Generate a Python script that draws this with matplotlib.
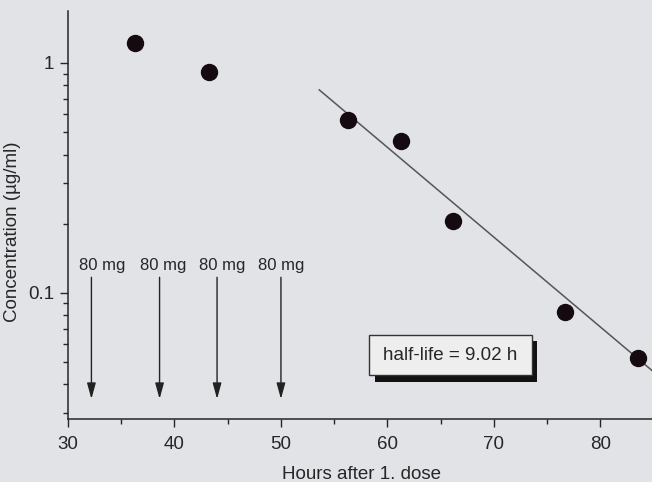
import matplotlib
matplotlib.use("Agg")
import matplotlib.pyplot as plt
from matplotlib.ticker import FixedLocator, FixedFormatter, LogLocator, NullFormatter, MultipleLocator
from matplotlib.patches import Rectangle

plt.rcParams['font.family'] = ['Liberation Sans', 'DejaVu Sans']

# Data
hours = [36.3, 43.2, 56.3, 61.3, 66.2, 76.7, 83.5]
conc = [1.22, 0.914, 0.565, 0.459, 0.205, 0.083, 0.052]

fit_hours = [53.6, 84.9]
fit_conc = [0.764, 0.0458]

dose_hours = [32.2, 38.6, 44.0, 50.0]
dose_labels = ["80 mg", "80 mg", "80 mg", "80 mg"]
dose_label_x = [33.2, 38.9, 44.5, 50.0]

halflife_text = "half-life = 9.02 h"

W, H = 652, 482
bg = '#e1e3e7'
ink = '#262626'
fig = plt.figure(figsize=(W / 100, H / 100), dpi=100, facecolor=bg)
ax = fig.add_axes([68 / W, 63 / H, 1 - 68 / W, 408 / H])
ax.set_facecolor(bg)
ax.set_yscale('log')
ax.set_xlim(30, 84.85)
ax.set_ylim(10 ** -1.548, 10 ** 0.2261)

for s in ['top', 'right']:
    ax.spines[s].set_visible(False)
for s in ['left', 'bottom']:
    ax.spines[s].set_color(ink)
    ax.spines[s].set_linewidth(1.1)

ax.xaxis.set_major_locator(MultipleLocator(10))
ax.xaxis.set_minor_locator(MultipleLocator(5))
ax.yaxis.set_major_locator(FixedLocator([0.1, 1]))
ax.yaxis.set_major_formatter(FixedFormatter(["0.1", "1"]))
ax.yaxis.set_minor_locator(LogLocator(base=10, subs=[2, 3, 4, 5, 6, 7, 8, 9]))
ax.yaxis.set_minor_formatter(NullFormatter())
ax.tick_params(which='major', length=6, width=1.0, color=ink, labelsize=13.5, labelcolor=ink)
ax.tick_params(axis='x', which='major', pad=6.5)
ax.tick_params(axis='y', which='major', pad=4)
ax.tick_params(which='minor', length=3.5, width=1.0, color=ink)

ax.set_xlabel("Hours after 1. dose", fontsize=13.5, color=ink)
ax.xaxis.set_label_coords(0.503, -0.115)
ax.set_ylabel("Concentration (µg/ml)", fontsize=13.5, color=ink)
ax.yaxis.set_label_coords(-0.081, 0.46)

ax.plot(fit_hours, fit_conc, color='#555555', linewidth=1.1, zorder=2)
ax.plot(hours, conc, 'o', color='#150a10', markersize=11.5, zorder=3)

for x, lx, lab in zip(dose_hours, dose_label_x, dose_labels):
    ax.annotate("", xy=(x, 0.0346), xytext=(x, 0.117),
                arrowprops=dict(arrowstyle='-|>,head_width=0.22,head_length=0.8', color='#222222', lw=1.0,
                                mutation_scale=12, shrinkA=0, shrinkB=0))
    ax.text(lx, 0.132, lab, ha='center', va='center', fontsize=12, color=ink)

# shadowed text box
shadow = Rectangle((375 / W, 1 - 382 / H), 162 / W, 41 / H, transform=fig.transFigure,
                   facecolor='#111111', edgecolor='none', zorder=4)
box = Rectangle((369 / W, 1 - 375 / H), 163 / W, 40 / H, transform=fig.transFigure,
                facecolor='#eeeeee', edgecolor='#333333', linewidth=1.0, zorder=5)
ax.add_artist(shadow)
ax.add_artist(box)
ax.text(65.9, 0.0537, halflife_text, ha='center', va='center', fontsize=13.5, color=ink, zorder=6)

fig.savefig("out.png", dpi=100, facecolor=bg)
